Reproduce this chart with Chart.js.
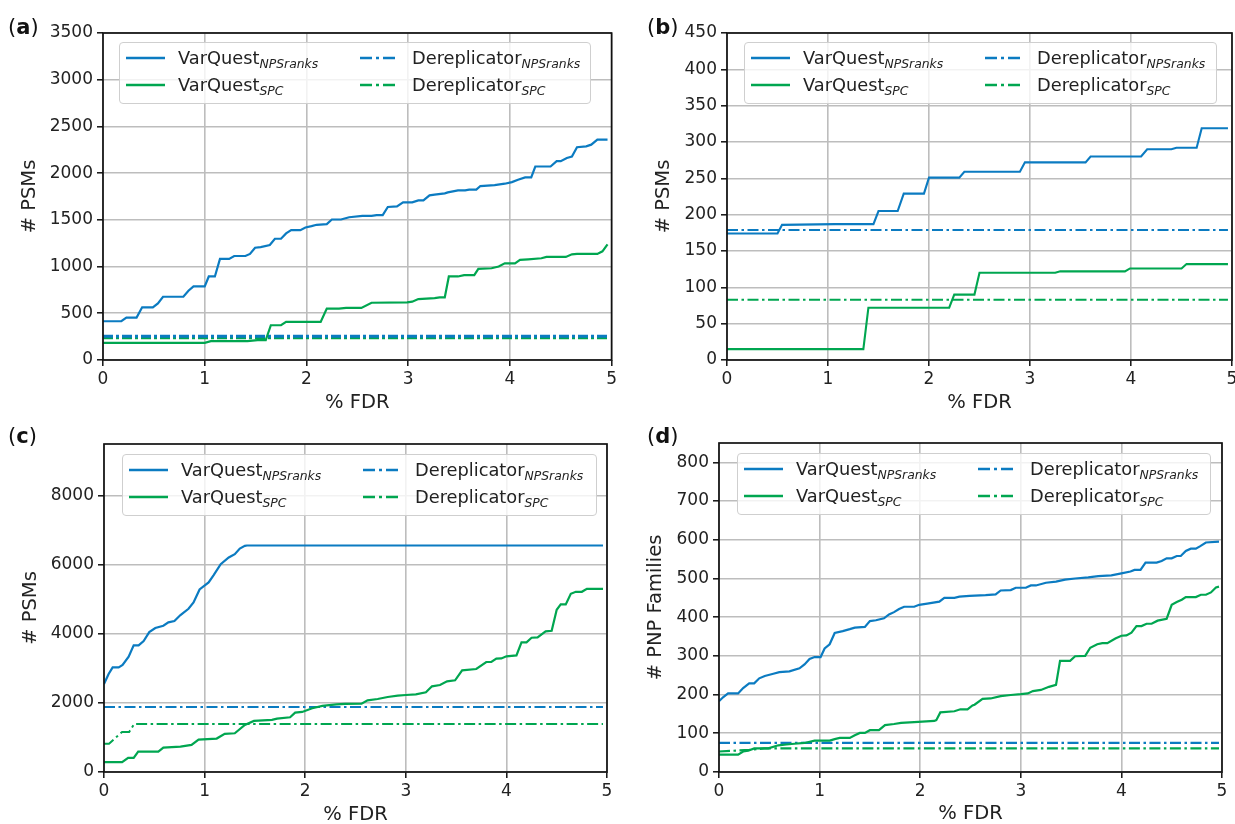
<!DOCTYPE html>
<html>
<head>
<meta charset="utf-8">
<script src="https://cdn.jsdelivr.net/npm/chart.js@4.4.1/dist/chart.umd.min.js"></script>
<style>
  body { margin: 0; width: 1235px; height: 824px; overflow: hidden; background: #fff; position: relative;
         font-family: "DejaVu Sans", sans-serif; }
  canvas { position: absolute; }
  .tag { position: absolute; font-size: 21px; line-height: 25px; color: #111; }
  .legend { position: absolute; box-sizing: border-box; background: rgba(255,255,255,0.8);
            border: 1px solid #cfcfcf; border-radius: 4px; }
  .item { position: absolute; height: 24px; width: 230px; white-space: nowrap; font-size: 17.8px;
          line-height: 24px; color: #222; }
  .item svg { position: absolute; left: 0; top: 9px; }
  .item .t { position: absolute; left: 52px; top: 0; }
  .item sub { font-style: italic; font-size: 12.4px; vertical-align: -4px; line-height: 0; }
</style>
</head>
<body>
<canvas id="pa"></canvas>
<canvas id="pb"></canvas>
<canvas id="pc"></canvas>
<canvas id="pd"></canvas>
<div class="tag" style="left:8px;top:15px">(<b>a</b>)</div>
<div class="tag" style="left:647px;top:15px">(<b>b</b>)</div>
<div class="tag" style="left:8px;top:424px">(<b>c</b>)</div>
<div class="tag" style="left:647px;top:424px">(<b>d</b>)</div>

<script>
// ---- dati: [FDR %, valore] ----
const fdrTicks = [0, 1, 2, 3, 4, 5];

const aTicks = [0, 500, 1000, 1500, 2000, 2500, 3000, 3500];
const aVarQuestNps = [[0,415],[0.18,415],[0.23,454],[0.33,454],[0.385,564],[0.49,564],[0.54,606],[0.59,677],[0.79,677],[0.84,741],[0.89,787],[1.0,787],[1.04,894],[1.1,894],[1.15,1082],[1.24,1082],[1.29,1113],[1.4,1113],[1.445,1135],[1.495,1202],[1.55,1209],[1.64,1231],[1.69,1298],[1.75,1298],[1.8,1355],[1.85,1390],[1.94,1390],[1.99,1418],[2.05,1433],[2.1,1447],[2.2,1454],[2.25,1504],[2.34,1504],[2.42,1528],[2.55,1543],[2.64,1543],[2.69,1550],[2.75,1550],[2.8,1638],[2.89,1645],[2.95,1688],[3.04,1688],[3.1,1709],[3.15,1709],[3.21,1762],[3.26,1770],[3.36,1784],[3.39,1794],[3.49,1816],[3.56,1816],[3.6,1823],[3.67,1823],[3.71,1862],[3.85,1872],[3.95,1887],[4.02,1904],[4.08,1929],[4.15,1954],[4.21,1954],[4.25,2071],[4.4,2071],[4.46,2128],[4.5,2128],[4.56,2163],[4.61,2177],[4.66,2277],[4.75,2287],[4.8,2305],[4.86,2358],[4.96,2358]];
const aVarQuestSpc = [[0,184],[1.0,184],[1.06,202],[1.42,202],[1.52,213],[1.6,213],[1.65,372],[1.75,372],[1.8,408],[2.14,408],[2.2,550],[2.32,550],[2.39,557],[2.54,557],[2.64,613],[2.99,617],[3.04,624],[3.1,652],[3.26,663],[3.31,670],[3.36,670],[3.4,894],[3.49,894],[3.55,908],[3.65,908],[3.69,975],[3.82,982],[3.89,1000],[3.95,1035],[4.05,1035],[4.1,1071],[4.18,1078],[4.31,1089],[4.36,1103],[4.55,1103],[4.61,1131],[4.66,1135],[4.86,1135],[4.91,1163],[4.96,1238]];
const aDerepNps = [[0,254],[4.96,254]];
const aDerepSpc = [[0,238],[4.96,238]];

const bTicks = [0, 50, 100, 150, 200, 250, 300, 350, 400, 450];
const bVarQuestNps = [[0,174],[0.5,174],[0.545,186],[1.07,187],[1.45,187],[1.5,205],[1.69,205],[1.75,229],[1.95,229],[2.0,251],[2.3,251],[2.35,259],[2.9,259],[2.95,272],[3.55,272],[3.6,280],[4.1,280],[4.16,290],[4.4,290],[4.45,292],[4.65,292],[4.7,319],[4.96,319]];
const bVarQuestSpc = [[0,15],[1.35,15],[1.4,72],[2.2,72],[2.25,90],[2.45,90],[2.5,120],[3.25,120],[3.3,122],[3.94,122],[3.99,126],[4.5,126],[4.55,132],[4.96,132]];
const bDerepNps = [[0,179],[4.96,179]];
const bDerepSpc = [[0,83],[4.96,83]];

const cTicks = [0, 2000, 4000, 6000, 8000];
const cVarQuestNps = [[0,2549],[0.046,2839],[0.086,3031],[0.146,3031],[0.185,3099],[0.245,3340],[0.295,3667],[0.344,3667],[0.394,3793],[0.45,4053],[0.51,4169],[0.59,4236],[0.64,4333],[0.7,4371],[0.76,4545],[0.84,4728],[0.89,4911],[0.95,5287],[1.04,5489],[1.09,5701],[1.16,6019],[1.24,6212],[1.3,6308],[1.35,6472],[1.4,6549],[1.42,6560],[4.96,6560]];
const cVarQuestSpc = [[0,284],[0.18,284],[0.24,410],[0.295,410],[0.34,593],[0.54,593],[0.59,708],[0.76,737],[0.87,786],[0.94,940],[1.12,969],[1.2,1104],[1.3,1123],[1.4,1364],[1.49,1480],[1.67,1508],[1.72,1547],[1.85,1585],[1.9,1720],[1.97,1740],[2.07,1846],[2.17,1913],[2.31,1961],[2.4,1975],[2.56,1980],[2.62,2077],[2.72,2115],[2.82,2173],[2.92,2212],[3.0,2231],[3.1,2250],[3.2,2308],[3.26,2482],[3.34,2520],[3.41,2626],[3.49,2655],[3.56,2945],[3.7,2983],[3.8,3186],[3.85,3186],[3.9,3282],[3.95,3290],[4.0,3350],[4.1,3378],[4.15,3754],[4.2,3754],[4.25,3889],[4.31,3898],[4.39,4072],[4.45,4090],[4.5,4700],[4.54,4853],[4.59,4853],[4.64,5161],[4.69,5219],[4.75,5219],[4.8,5306],[4.96,5306]];
const cDerepNps = [[0,1880],[4.96,1880]];
const cDerepSpc = [[0,820],[0.05,820],[0.18,1160],[0.25,1160],[0.3,1390],[4.96,1390]];

const dTicks = [0, 100, 200, 300, 400, 500, 600, 700, 800];
const dVarQuestNps = [[0,183],[0.04,193],[0.09,203],[0.19,203],[0.24,217],[0.3,229],[0.35,229],[0.4,242],[0.455,248],[0.54,254],[0.6,258],[0.7,260],[0.8,268],[0.85,278],[0.9,292],[0.95,297],[1.01,297],[1.05,319],[1.1,330],[1.15,359],[1.23,364],[1.3,369],[1.35,373],[1.45,375],[1.5,390],[1.56,392],[1.64,397],[1.69,407],[1.74,413],[1.79,421],[1.84,427],[1.94,427],[1.99,432],[2.07,435],[2.19,440],[2.24,450],[2.34,450],[2.39,453],[2.49,455],[2.65,457],[2.75,459],[2.8,469],[2.9,470],[2.95,476],[3.05,476],[3.1,482],[3.15,482],[3.25,489],[3.35,492],[3.44,497],[3.54,500],[3.67,503],[3.77,506],[3.9,508],[4.0,513],[4.09,518],[4.13,522],[4.19,522],[4.24,541],[4.35,541],[4.4,545],[4.45,552],[4.5,552],[4.55,558],[4.59,558],[4.64,571],[4.69,577],[4.74,577],[4.78,583],[4.84,593],[4.97,595]];
const dVarQuestSpc = [[0,45],[0.19,45],[0.24,53],[0.29,55],[0.35,61],[0.49,61],[0.59,69],[0.67,71],[0.75,73],[0.85,75],[0.95,81],[1.1,81],[1.15,85],[1.2,88],[1.3,88],[1.35,95],[1.4,101],[1.45,101],[1.5,108],[1.59,108],[1.65,121],[1.74,124],[1.81,127],[1.94,129],[2.14,132],[2.16,134],[2.2,154],[2.34,157],[2.4,162],[2.47,162],[2.52,172],[2.54,174],[2.62,189],[2.7,190],[2.8,196],[2.9,199],[3.0,201],[3.07,203],[3.12,209],[3.2,212],[3.28,220],[3.35,225],[3.39,287],[3.49,287],[3.54,299],[3.64,300],[3.69,321],[3.76,330],[3.81,333],[3.86,333],[3.94,345],[4.0,352],[4.05,353],[4.1,360],[4.15,377],[4.2,377],[4.25,383],[4.3,383],[4.36,391],[4.45,396],[4.5,432],[4.55,439],[4.6,445],[4.64,452],[4.74,452],[4.79,458],[4.84,458],[4.89,464],[4.94,477],[4.97,479]];
const dDerepNps = [[0,75],[4.97,75]];
const dDerepSpc = [[0,53],[0.3,57],[0.45,61],[4.97,61]];

const BLUE = '#0b7bc1';
const GREEN = '#00a650';
const GRID = '#bdbdbd';
const INK = '#222';
const FONT = '"DejaVu Sans", sans-serif';

// cornice completa attorno all'area del grafico
const framePlugin = {
    id: 'frame',
    afterDraw(chart) {
        const { ctx, chartArea: a } = chart;
        ctx.save();
        ctx.strokeStyle = '#111';
        ctx.lineWidth = 1.7;
        ctx.strokeRect(a.left, a.top, a.right - a.left, a.bottom - a.top);
        ctx.restore();
    }
};

function line(points, color, width, dash) {
    return {
        data: points.map(p => ({ x: p[0], y: p[1] })),
        borderColor: color,
        borderWidth: width,
        borderDash: dash || [],
        pointRadius: 0,
        tension: 0,
        fill: false
    };
}

function makePanel(p) {
    const cv = document.getElementById(p.id);
    cv.width = p.w; cv.height = p.h;
    cv.style.left = p.left + 'px'; cv.style.top = p.top + 'px';
    cv.style.width = p.w + 'px'; cv.style.height = p.h + 'px';

    const yW = p.plot.l - p.left;
    const xH = p.top + p.h - p.plot.b;
    const half = 19.5 * 1.2 / 2;

    new Chart(cv.getContext('2d'), {
        type: 'line',
        data: {
            datasets: [
                line(p.series[0], BLUE, p.lw),
                line(p.series[1], GREEN, p.lw),
                line(p.series[2], BLUE, p.dlw, p.dash),
                line(p.series[3], GREEN, p.dlw, p.dash)
            ]
        },
        options: {
            responsive: false,
            animation: false,
            events: [],
            layout: { padding: { top: p.plot.t - p.top, right: p.left + p.w - p.plot.r, left: 0, bottom: 0 } },
            plugins: { legend: { display: false }, tooltip: { enabled: false } },
            scales: {
                x: {
                    type: 'linear', min: 0, max: 5,
                    afterBuildTicks(s) { s.ticks = fdrTicks.map(v => ({ value: v })); },
                    ticks: { color: INK, font: { family: FONT, size: 17 }, padding: 3, maxRotation: 0,
                             callback: v => String(v) },
                    grid: { color: GRID, lineWidth: 1.6, tickLength: 6, tickColor: '#111', tickWidth: 1.5 },
                    border: { display: false },
                    title: { display: true, text: '% FDR', color: INK, font: { family: FONT, size: 19.5 },
                             padding: { top: 0, bottom: p.top + p.h - p.xTitleY - half } },
                    afterFit(s) { s.height = xH; }
                },
                y: {
                    type: 'linear', min: 0, max: p.yMax,
                    afterBuildTicks(s) { s.ticks = p.yTicks.map(v => ({ value: v })); },
                    ticks: { color: INK, font: { family: FONT, size: 17 }, padding: 4,
                             callback: v => String(v) },
                    grid: { color: GRID, lineWidth: 1.6, tickLength: 6, tickColor: '#111', tickWidth: 1.5 },
                    border: { display: false },
                    title: { display: true, text: p.yTitle, color: INK, font: { family: FONT, size: 19.5 },
                             padding: { top: p.yTitleX - p.left - half, bottom: 0 } },
                    afterFit(s) { s.width = yW; }
                }
            }
        },
        plugins: [framePlugin]
    });

    // legenda (testo HTML con pedici)
    const box = document.createElement('div');
    box.className = 'legend';
    Object.assign(box.style, { left: p.legend.l + 'px', top: p.legend.t + 'px', width: p.legend.w + 'px', height: '62px' });
    const items = [
        { col: 6, row: 15, color: BLUE, dash: null, name: 'VarQuest', sub: 'NPSranks' },
        { col: 6, row: 42, color: GREEN, dash: null, name: 'VarQuest', sub: 'SPC' },
        { col: 240, row: 15, color: BLUE, dash: '12 4 3 4', name: 'Dereplicator', sub: 'NPSranks' },
        { col: 240, row: 42, color: GREEN, dash: '12 4 3 4', name: 'Dereplicator', sub: 'SPC' }
    ];
    items.forEach(it => {
        const d = document.createElement('div');
        d.className = 'item';
        d.style.left = it.col + 'px';
        d.style.top = (it.row - 12) + 'px';
        const dashAttr = it.dash ? ` stroke-dasharray="${it.dash}"` : '';
        d.innerHTML = `<svg width="40" height="6"><line x1="0" y1="3" x2="39" y2="3" stroke="${it.color}" stroke-width="2.6"${dashAttr}/></svg>` +
                      `<span class="t">${it.name}<sub>${it.sub}</sub></span>`;
        box.appendChild(d);
    });
    document.body.appendChild(box);
}

const panels = [
    { id: 'pa', left: 0, top: 0, w: 620, h: 420, plot: { l: 103, r: 612, t: 33, b: 360 },
      yMax: 3500, yTicks: aTicks, yTitle: '# PSMs', yTitleX: 30, xTitleY: 403,
      lw: 2.2, dlw: 3, dash: [10, 3, 3, 3],
      series: [aVarQuestNps, aVarQuestSpc, aDerepNps, aDerepSpc],
      legend: { l: 119, t: 42, w: 472 } },
    { id: 'pb', left: 620, top: 0, w: 625, h: 420, plot: { l: 727, r: 1232, t: 33, b: 360 },
      yMax: 450, yTicks: bTicks, yTitle: '# PSMs', yTitleX: 664, xTitleY: 403,
      lw: 2.1, dlw: 2, dash: [11, 3.5, 2.5, 3.5],
      series: [bVarQuestNps, bVarQuestSpc, bDerepNps, bDerepSpc],
      legend: { l: 744, t: 42, w: 473 } },
    { id: 'pc', left: 0, top: 412, w: 620, h: 428, plot: { l: 104, r: 607, t: 444, b: 772 },
      yMax: 9500, yTicks: cTicks, yTitle: '# PSMs', yTitleX: 31, xTitleY: 815,
      lw: 2.2, dlw: 2, dash: [11, 3.5, 2.5, 3.5],
      series: [cVarQuestNps, cVarQuestSpc, cDerepNps, cDerepSpc],
      legend: { l: 122, t: 454, w: 475 } },
    { id: 'pd', left: 620, top: 412, w: 625, h: 428, plot: { l: 719, r: 1222, t: 443, b: 772 },
      yMax: 850, yTicks: dTicks, yTitle: '# PNP Families', yTitleX: 656, xTitleY: 814,
      lw: 2.2, dlw: 2.2, dash: [11, 3.5, 2.5, 3.5],
      series: [dVarQuestNps, dVarQuestSpc, dDerepNps, dDerepSpc],
      legend: { l: 737, t: 453, w: 474 } }
];

panels.forEach(makePanel);
</script>
</body>
</html>
